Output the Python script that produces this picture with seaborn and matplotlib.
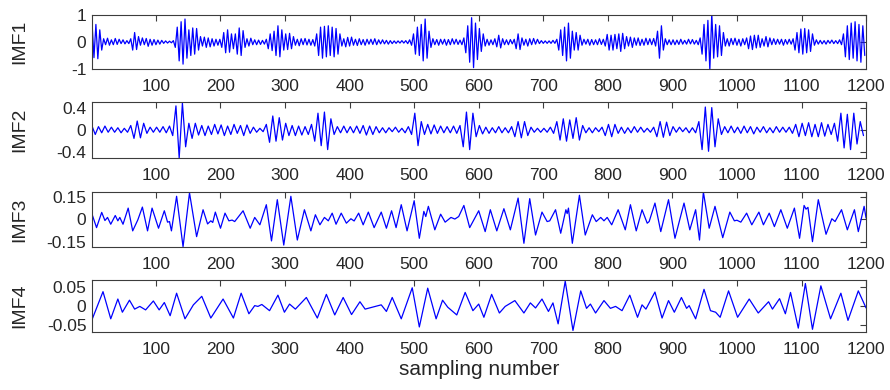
import numpy as np
import matplotlib
matplotlib.use("Agg")
import matplotlib.pyplot as plt
import seaborn as sns

# axis ticks / labels
x_ticks = [100, 200, 300, 400, 500, 600, 700, 800, 900, 1000, 1100, 1200]
imf_names = ["IMF1", "IMF2", "IMF3", "IMF4"]
y_ticks = [[-1, 0, 1], [-0.4, 0, 0.4], [-0.15, 0, 0.15], [-0.05, 0, 0.05]]
y_ticklabels = [["-1", "0", "1"], ["-0.4", "0", "0.4"],
                ["-0.15", "0", "0.15"], ["-0.05", "0", "0.05"]]
y_limits = [(-1, 1), (-0.5, 0.5), (-0.186, 0.186), (-0.067, 0.067)]

# IMF1: peaks/troughs read every 3 samples (rows of 25 -> 75 samples)
imf1_x = np.arange(1, 1201, 3)
imf1_y = [
    0.72, -0.58, 0.65, -0.62, 0.45, -0.3, 0.12, -0.1, 0.14, -0.12, 0.08, -0.1, 0.13, -0.09, 0.1, -0.06, 0.08, -0.07, 0.05, -0.06, 0.12, -0.3, 0.35, -0.28, 0.2,
    -0.12, 0.15, -0.1, 0.13, -0.16, 0.1, -0.12, 0.09, -0.1, 0.07, -0.08, 0.06, -0.05, 0.04, -0.04, 0.03, -0.03, 0.05, -0.2, 0.55, -0.7, 0.75, -0.82, 0.85, -0.6,
    0.45, -0.5, 0.52, -0.45, 0.5, -0.3, 0.2, -0.15, 0.18, -0.2, 0.15, -0.18, 0.12, -0.15, 0.1, -0.12, 0.1, -0.2, 0.35, -0.4, 0.45, -0.38, 0.3, -0.25, 0.3,
    -0.45, 0.52, -0.5, 0.42, -0.2, 0.12, -0.15, 0.14, -0.1, 0.08, -0.1, 0.07, -0.09, 0.06, -0.08, 0.1, -0.25, 0.3, -0.32, 0.4, -0.5, 0.6, -0.55, 0.45, -0.3,
    0.3, -0.28, 0.32, -0.25, 0.2, -0.12, 0.1, -0.14, 0.12, -0.1, 0.13, -0.11, 0.1, -0.12, 0.09, -0.15, 0.3, -0.5, 0.55, -0.6, 0.58, -0.55, 0.6, -0.5, 0.55,
    -0.55, 0.5, -0.45, 0.3, -0.15, 0.12, -0.18, 0.17, -0.15, 0.18, -0.12, 0.1, -0.13, 0.12, -0.1, 0.09, -0.12, 0.1, -0.08, 0.1, -0.09, 0.12, -0.1, 0.08, -0.07,
    0.08, -0.07, 0.06, -0.08, 0.05, -0.06, 0.04, -0.05, 0.04, -0.04, 0.05, -0.04, 0.05, -0.06, 0.08, -0.12, 0.3, -0.45, 0.55, -0.5, 0.65, -0.7, 0.85, -0.6, 0.4,
    -0.2, 0.12, -0.1, 0.09, -0.12, 0.1, -0.08, 0.1, -0.12, 0.09, -0.1, 0.12, -0.08, 0.1, -0.09, 0.07, -0.1, 0.15, -0.4, 0.6, -0.75, 0.9, -0.95, 0.7, -0.65,
    0.5, -0.35, 0.3, -0.15, 0.1, -0.12, 0.08, -0.1, 0.12, -0.18, 0.25, -0.22, 0.12, -0.1, 0.08, -0.1, 0.09, -0.07, 0.1, -0.25, 0.3, -0.28, 0.15, -0.12, 0.1,
    -0.15, 0.12, -0.1, 0.13, -0.08, 0.1, -0.06, 0.05, -0.05, 0.04, -0.05, 0.04, -0.05, 0.06, -0.05, 0.1, -0.3, 0.45, -0.5, 0.55, -0.7, 0.7, -0.6, 0.4, -0.3,
    0.35, -0.3, 0.25, -0.12, 0.1, -0.08, 0.1, -0.12, 0.09, -0.1, 0.08, -0.1, 0.12, -0.09, 0.1, -0.15, 0.28, -0.3, 0.25, -0.3, 0.28, -0.25, 0.3, -0.35, 0.32,
    -0.25, 0.2, -0.15, 0.18, -0.2, 0.15, -0.12, 0.15, -0.13, 0.1, -0.12, 0.14, -0.1, 0.12, -0.1, 0.13, -0.15, 0.4, -0.6, 0.6, -0.3, 0.12, -0.1, 0.08, -0.1,
    0.08, -0.1, 0.07, -0.09, 0.1, -0.08, 0.06, -0.08, 0.1, -0.07, 0.09, -0.08, 0.06, -0.1, 0.15, -0.45, 0.65, -0.7, 0.8, -1.05, 1.05, -0.6, 0.65, -0.55, 0.6,
    -0.5, 0.35, -0.15, 0.12, -0.15, 0.13, -0.1, 0.14, -0.12, 0.1, -0.15, 0.12, -0.1, 0.15, -0.25, 0.22, -0.28, 0.25, -0.22, 0.25, -0.2, 0.12, -0.15, 0.2, -0.18,
    0.15, -0.1, 0.12, -0.09, 0.1, -0.08, 0.1, -0.12, 0.09, -0.08, 0.1, -0.08, 0.12, -0.3, 0.35, -0.4, 0.48, -0.45, 0.5, -0.4, 0.45, -0.35, 0.3, -0.12, 0.08,
    -0.08, 0.06, -0.07, 0.05, -0.08, 0.06, -0.05, 0.07, -0.06, 0.05, -0.06, 0.08, -0.1, 0.3, -0.55, 0.6, -0.65, 0.7, -0.6, 0.75, -0.7, 0.65, -0.75, 0.6, -0.5,
]

# IMF2: peaks/troughs every 5 samples (rows of 20 -> 100 samples)
imf2_x = np.arange(1, 1201, 5)
imf2_y = [
    0.07, -0.08, 0.06, -0.05, 0.07, -0.04, 0.05, -0.04, 0.04, -0.05, 0.03, -0.04, 0.08, -0.15, 0.16, -0.14, 0.12, -0.06, 0.05, -0.04,
    0.05, -0.04, 0.06, -0.05, 0.07, -0.1, 0.43, -0.5, 0.48, -0.3, 0.12, -0.15, 0.12, -0.09, 0.08, -0.1, 0.07, -0.08, 0.1, -0.07,
    0.09, -0.1, 0.07, -0.08, 0.1, -0.06, 0.08, -0.1, 0.09, -0.06, 0.05, -0.04, 0.03, -0.03, 0.1, -0.22, 0.25, -0.2, 0.22, -0.18,
    0.12, -0.1, 0.08, -0.1, 0.07, -0.09, 0.06, -0.08, 0.1, -0.2, 0.3, -0.28, 0.32, -0.35, 0.2, -0.08, 0.06, -0.05, 0.07, -0.05,
    0.06, -0.05, 0.07, -0.06, 0.08, -0.09, 0.07, -0.08, 0.06, -0.05, 0.04, -0.05, 0.04, -0.03, 0.05, -0.04, 0.03, -0.05, 0.06, -0.08,
    0.3, -0.28, 0.15, -0.08, 0.1, -0.07, 0.09, -0.06, 0.07, -0.05, 0.06, -0.05, 0.07, -0.06, 0.08, -0.3, 0.32, -0.35, 0.3, -0.12,
    0.08, -0.07, 0.05, -0.06, 0.04, -0.05, 0.06, -0.05, 0.04, -0.05, 0.06, -0.12, 0.15, -0.14, 0.15, -0.1, 0.05, -0.04, 0.03, -0.04,
    0.03, -0.04, 0.05, -0.06, 0.15, -0.18, 0.2, -0.2, 0.18, -0.15, 0.22, -0.18, 0.08, -0.05, 0.04, -0.05, 0.04, -0.03, 0.05, -0.1,
    0.1, -0.12, 0.1, -0.06, 0.05, -0.06, 0.04, -0.05, 0.06, -0.04, 0.05, -0.04, 0.03, -0.04, 0.05, -0.12, 0.15, -0.13, 0.14, -0.1,
    0.06, -0.04, 0.05, -0.03, 0.04, -0.05, 0.04, -0.05, 0.15, -0.35, 0.41, -0.38, 0.4, -0.3, 0.2, -0.08, 0.06, -0.05, 0.07, -0.05,
    0.05, -0.06, 0.07, -0.05, 0.06, -0.07, 0.05, -0.04, 0.06, -0.05, 0.04, -0.05, 0.06, -0.04, 0.05, -0.04, 0.05, -0.06, 0.1, -0.12,
    0.12, -0.1, 0.13, -0.12, 0.1, -0.12, 0.13, -0.11, 0.1, -0.08, 0.12, -0.2, 0.3, -0.32, 0.28, -0.35, 0.3, -0.25, 0.15, -0.1,
]

# IMF3: extrema (sample, value)
imf3_x = [1, 8, 16, 21, 25, 30, 37, 41, 44, 49, 57, 64, 72, 79, 87, 94, 104, 113, 118, 121,
          124, 132, 142, 152, 163, 173, 180, 185, 188, 192, 200, 207, 213, 218, 222, 235, 246, 253, 261, 271,
          279, 288, 298, 309, 319, 330, 340, 347, 354, 361, 367, 373, 379, 387, 395, 402, 407, 414, 421, 429,
          438, 449, 457, 465, 472, 480, 489, 500, 508, 515, 518, 522, 532, 541, 548, 557, 563, 569, 577, 586,
          600, 610, 618, 628, 639, 649, 661, 670, 679, 688, 698, 706, 710, 719, 727, 735, 737, 739, 745, 756,
          765, 776, 782, 789, 794, 799, 806, 816, 827, 835, 844, 853, 861, 864, 873, 882, 894, 904, 918, 927,
          936, 942, 948, 957, 966, 978, 989, 996, 1000, 1006, 1015, 1023, 1034, 1041, 1050, 1058, 1068, 1078, 1089, 1097,
          1104, 1107, 1110, 1117, 1126, 1138, 1147, 1152, 1162, 1171, 1182, 1188, 1197, 1200]
imf3_y = [0.036, -0.055, 0.048, -0.007, 0.014, -0.032, 0.027, -0.009, 0.014, -0.032, 0.077, -0.077, -0.002, 0.084, -0.077, 0.077, -0.059, 0.059, -0.018, -0.014,
          -0.077, 0.157, -0.184, 0.18, -0.116, 0.066, -0.03, -0.009, -0.02, 0.05, -0.059, 0.043, -0.009, -0.004, -0.014, 0.059, -0.059, 0.014, -0.036, 0.1,
          -0.145, 0.134, -0.173, 0.157, -0.139, 0.066, -0.077, 0.032, -0.036, 0.014, -0.009, 0.043, -0.032, 0.043, -0.025, 0.005, -0.01, 0.043, -0.036, 0.05,
          -0.055, 0.05, -0.059, 0.059, -0.055, 0.1, -0.077, 0.127, -0.127, 0.055, 0.02, 0.089, -0.07, 0.036, -0.018, 0.014, 0.003, 0.02, 0.095, -0.055,
          0.059, -0.082, 0.066, -0.077, 0.073, -0.07, 0.145, -0.161, 0.141, -0.105, 0.05, -0.014, -0.009, 0.066, -0.093, 0.066, 0.04, 0.077, -0.161, 0.164,
          -0.105, 0.032, -0.014, 0.014, -0.009, 0.014, -0.036, 0.066, -0.07, 0.1, -0.077, 0.066, -0.025, -0.014, 0.111, -0.082, 0.134, -0.127, 0.111, -0.07,
          0.066, -0.139, 0.186, -0.059, 0.089, -0.123, 0.05, -0.009, -0.005, -0.018, 0.043, -0.036, 0.05, -0.036, 0.043, -0.048, 0.066, -0.059, 0.077, -0.127,
          0.095, 0.07, 0.082, -0.15, 0.134, -0.1, 0.005, -0.014, 0.066, -0.07, 0.066, -0.082, 0.089, 0.01]

# IMF4: extrema (sample, value)
imf4_x = [1, 18, 30, 41, 48, 59, 67, 75, 84, 96, 105, 113, 122, 132, 145, 158, 171, 185, 204, 220,
          232, 244, 253, 258, 264, 276, 289, 299, 307, 316, 333, 350, 364, 377, 390, 403, 416, 424, 449, 457,
          466, 480, 497, 508, 521, 534, 544, 552, 566, 579, 591, 600, 608, 620, 632, 641, 656, 670, 680, 688,
          698, 708, 715, 723, 734, 746, 758, 767, 773, 781, 794, 804, 812, 822, 834, 846, 853, 859, 873, 884,
          894, 903, 914, 922, 926, 936, 949, 959, 967, 974, 987, 1001, 1019, 1033, 1049, 1055, 1066, 1075, 1083, 1095,
          1106, 1117, 1130, 1145, 1161, 1172, 1188, 1200]
imf4_y = [-0.035, 0.037, -0.033, 0.018, -0.016, 0.015, -0.008, -0.001, -0.01, 0.013, -0.01, 0.009, -0.025, 0.033, -0.033, 0.003, 0.025, -0.031, 0.018, -0.031,
          0.033, -0.02, 0.001, -0.001, 0.004, -0.012, 0.028, -0.016, 0.005, -0.008, 0.022, -0.031, 0.03, -0.023, 0.022, -0.022, 0.011, -0.008, 0.003, -0.014,
          0.022, -0.033, 0.047, -0.054, 0.046, -0.033, 0.015, -0.003, -0.023, 0.035, -0.012, 0.005, -0.029, 0.03, -0.018, -0.001, 0.014, -0.018, 0.008, -0.005,
          0.018, -0.014, 0.008, -0.046, 0.064, -0.063, 0.039, -0.006, 0.005, -0.018, 0.014, -0.006, -0.001, -0.012, 0.028, -0.029, 0.003, -0.008, 0.036, -0.031,
          0.014, -0.016, 0.022, -0.006, 0.001, -0.033, 0.043, -0.012, -0.016, -0.029, 0.039, -0.029, 0.018, -0.018, 0.011, -0.008, 0.019, -0.02, 0.035, -0.057,
          0.058, -0.06, 0.052, -0.033, 0.033, -0.037, 0.039, -0.005]

series = [(imf1_x, imf1_y), (imf2_x, imf2_y), (imf3_x, imf3_y), (imf4_x, imf4_y)]

sns.set_style("white")
plt.rcParams['font.family'] = ['Liberation Sans', 'DejaVu Sans']

fig = plt.figure(figsize=(8.9, 3.9), dpi=100)
# [left, bottom, width, height] in figure fractions
boxes = [
    [0.1034, 0.8231, 0.8697, 0.1385],
    [0.1034, 0.5949, 0.8697, 0.1436],
    [0.1034, 0.3667, 0.8697, 0.1410],
    [0.1034, 0.1487, 0.8697, 0.1333],
]

frame_col = '#3c3c3c'
text_col = '#262626'

for i, (xs, ys) in enumerate(series):
    ax = fig.add_axes(boxes[i])
    sns.lineplot(x=xs, y=ys, ax=ax, color='#0000ff', linewidth=0.9, sort=False)
    ax.set_xlim(1, 1200)
    ax.set_ylim(*y_limits[i])
    ax.set_xticks(x_ticks)
    ax.set_xticklabels([str(t) for t in x_ticks])
    ax.set_yticks(y_ticks[i])
    ax.set_yticklabels(y_ticklabels[i])
    ax.tick_params(direction='in', length=4, width=0.8, top=True, right=True,
                   color=frame_col, labelcolor=text_col, labelsize=12.5)
    ax.tick_params(axis='x', pad=7)
    ax.tick_params(axis='y', pad=4)
    for sp in ax.spines.values():
        sp.set_color(frame_col)
        sp.set_linewidth(0.8)
    ax.set_ylabel(imf_names[i], fontsize=14, color=text_col)
    # anchor is the right side of the rotated label
    ax.yaxis.set_label_coords(-0.083, 0.5)
    if i == 3:
        ax.set_xlabel("sampling number", fontsize=15, color=text_col, labelpad=2)

fig.savefig("out.png", dpi=100)
